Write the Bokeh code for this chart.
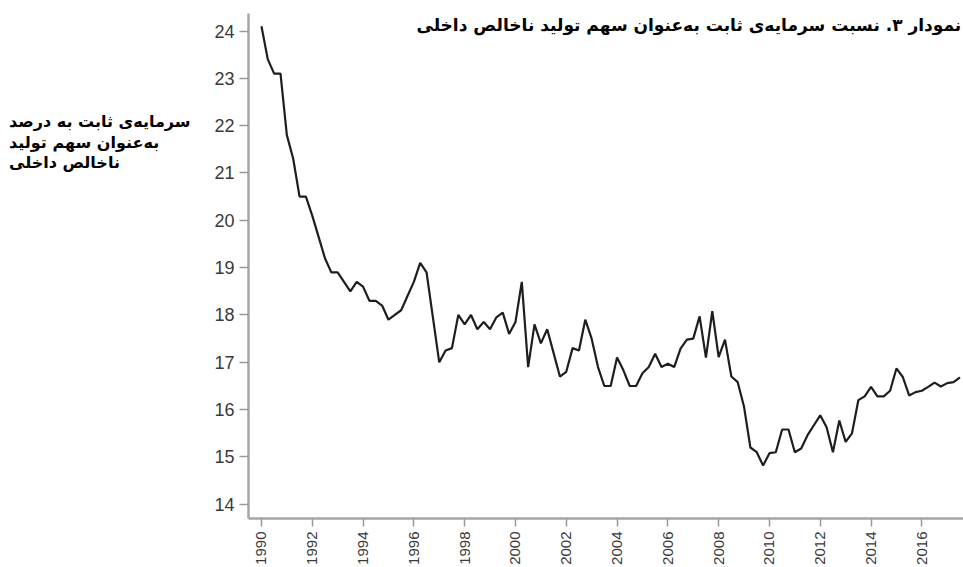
from bokeh.plotting import figure
from bokeh.models import FixedTicker, Range1d, Label, Div
from bokeh.layouts import row
from bokeh.embed import file_html
from bokeh.resources import INLINE
import math

# Quarterly series, 1990Q1 .. 2017Q3
start_year = 1990
values = [
    24.1, 23.4, 23.1, 23.1, 21.8, 21.3, 20.5, 20.5,
    20.1, 19.65, 19.2, 18.9, 18.9, 18.7, 18.5, 18.7,
    18.6, 18.3, 18.3, 18.2, 17.9, 18.0, 18.1, 18.4,
    18.7, 19.1, 18.9, 17.95, 17.0, 17.25, 17.3, 18.0,
    17.8, 18.0, 17.7, 17.85, 17.7, 17.95, 18.05, 17.6,
    17.85, 18.7, 16.9, 17.8, 17.4, 17.7, 17.2, 16.7,
    16.8, 17.3, 17.25, 17.9, 17.5, 16.9, 16.5, 16.5,
    17.1, 16.83, 16.5, 16.5, 16.77, 16.9, 17.18, 16.9,
    16.97, 16.9, 17.29, 17.48, 17.5, 17.97, 17.1, 18.08,
    17.11, 17.48, 16.7, 16.58, 16.06, 15.2, 15.1, 14.82,
    15.08, 15.1, 15.58, 15.58, 15.1, 15.18, 15.46, 15.67,
    15.88, 15.63, 15.1, 15.77, 15.32, 15.5, 16.2, 16.28,
    16.48, 16.28, 16.28, 16.4, 16.87, 16.69, 16.3, 16.37,
    16.4, 16.48, 16.57, 16.49, 16.56, 16.58, 16.68,
]
years = [start_year + i / 4 for i in range(len(values))]

x_ticks = list(range(1990, 2017, 2))
y_ticks = list(range(14, 25))

title_text = "نمودار ۳. نسبت سرمایه‌ی ثابت به‌عنوان سهم تولید ناخالص داخلی"
ylabel_lines = ["سرمایه‌ی ثابت به درصد", "به‌عنوان سهم تولید", "ناخالص داخلی"]

DIV_W = 190
FIG_W = 763
H = 567

p = figure(width=FIG_W, height=H, output_backend="svg", toolbar_location=None,
           x_range=Range1d(1989.49, 2017.64), y_range=Range1d(13.70, 24.37),
           min_border_left=48, min_border_right=0, min_border_top=13,
           min_border_bottom=49, outline_line_color=None,
           background_fill_color="white", border_fill_color="white")

p.line(years, values, line_color="#1e1e1e", line_width=2.2)

p.xgrid.grid_line_color = None
p.ygrid.grid_line_color = None

for ax in (p.xaxis[0], p.yaxis[0]):
    ax.axis_line_color = "#a6a6a6"
    ax.axis_line_width = 2.5
    ax.major_tick_line_color = "#9a9a9a"
    ax.major_tick_line_width = 1.5
    ax.major_tick_out = 9
    ax.major_tick_in = 0
    ax.minor_tick_line_color = None
    ax.major_label_text_color = "#3a3a3a"
    ax.major_label_text_font = "Liberation Sans"

p.xaxis.ticker = FixedTicker(ticks=x_ticks)
p.yaxis.ticker = FixedTicker(ticks=y_ticks)
p.xaxis.major_label_orientation = math.pi / 2
p.xaxis.major_label_text_font_size = "15px"
p.yaxis.major_label_text_font_size = "18px"
p.xaxis.major_tick_out = 8
p.xaxis.major_label_standoff = 5
p.yaxis.major_label_standoff = 5

# title at the top of the plot area
p.add_layout(Label(x=2017.55, y=24.37, text=title_text,
                   text_font="DejaVu Sans", text_font_style="bold",
                   text_font_size="17px", text_color="black",
                   text_align="right", text_baseline="top", y_offset=-1))

label_html = (
    '<div style="margin-top:107px;margin-left:4px;font-family:\'DejaVu Sans\';'
    'font-weight:bold;font-size:16px;line-height:20.5px;color:black;'
    'text-align:left;white-space:nowrap;">'
    + "<br>".join('<span dir="rtl">%s</span>' % s for s in ylabel_lines)
    + "</div>"
)
left_label = Div(text=label_html, width=DIV_W, height=H)

layout = row(left_label, p, spacing=0)

open("out.html", "w").write(file_html(layout, INLINE))
